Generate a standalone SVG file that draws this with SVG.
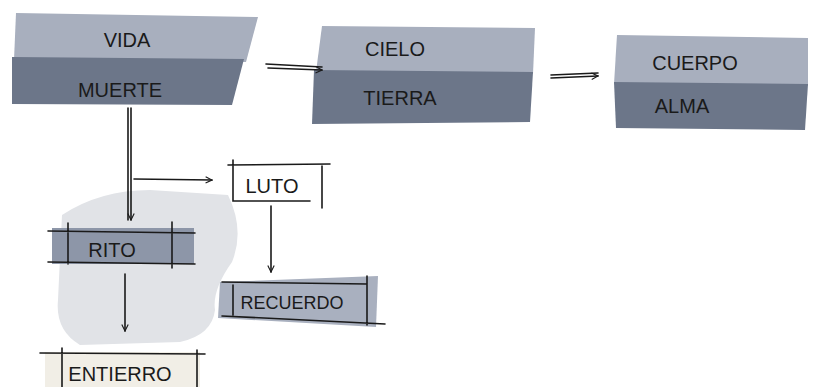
<svg xmlns="http://www.w3.org/2000/svg" width="813" height="387" viewBox="0 0 813 387">
<defs>
<style>
.lt{fill:#a8afbe}
.dk{fill:#6c7689}
.t{font-family:"Liberation Sans",Arial,sans-serif;font-size:20px;fill:#1a1a1a;text-anchor:middle}
.ln{stroke:#1a1a1a;stroke-width:1.6;fill:none;stroke-linecap:round}
.wash{fill:#e1e3e7}
</style>
<marker id="ah" viewBox="0 0 10 10" refX="9" refY="5" markerWidth="8" markerHeight="8" orient="auto-start-reverse" markerUnits="userSpaceOnUse">
<path d="M1,1 L9,5 L1,9" fill="none" stroke="#1a1a1a" stroke-width="1.4"/>
</marker>
</defs>
<rect width="813" height="387" fill="#ffffff"/>
<path class="wash" d="M62,215 Q100,190 150,190 L228,195 Q245,230 232,262 Q212,290 215,310 Q212,335 180,342 L80,345 Q55,330 58,300 Z"/>
<g id="vida-muerte">
<path class="lt" d="M16,13 L258,17 L246,62 L14,60 Z"/>
<path class="dk" d="M12,57 L244,59 L232,105 L12,104 Z"/>
<text class="t" x="127" y="47">VIDA</text>
<text class="t" x="120" y="97">MUERTE</text>
</g>
<g id="cielo-tierra">
<path class="lt" d="M322,26 L535,28 L533,74 L316,72 Z"/>
<path class="dk" d="M314,70 L533,72 L530,122 L312,124 Z"/>
<text class="t" x="395" y="56">CIELO</text>
<text class="t" x="400" y="105">TIERRA</text>
</g>
<g id="cuerpo-alma">
<path class="lt" d="M617,35 L808,38 L808,86 L614,84 Z"/>
<path class="dk" d="M614,82 L808,84 L805,130 L616,128 Z"/>
<text class="t" x="695" y="70">CUERPO</text>
<text class="t" x="682" y="113">ALMA</text>
</g>
<g id="luto">
<path class="ln" d="M228,165 L330,164 M233,160 L233,201 L310,201 M322,166 L322,208"/>
<text class="t" x="272" y="193">LUTO</text>
</g>
<g id="rito">
<rect x="52" y="228" width="142" height="36" fill="#8d96a8"/>
<path class="ln" d="M48,231 L195,233 M48,262 L195,264 M68,223 L68,264 M172,222 L172,268"/>
<text class="t" x="112" y="257">RITO</text>
</g>
<g id="recuerdo">
<path d="M220,282 L378,276 L376,327 L218,318 Z" fill="#a9b0bf"/>
<path class="ln" d="M222,282 L367,284 M222,316 L385,324 M233,285 L233,315 M367,276 L367,325"/>
<text class="t" x="292" y="309" style="font-size:18px">RECUERDO</text>
</g>
<g id="entierro">
<rect x="45" y="352" width="155" height="35" fill="#f1eee6"/>
<path class="ln" d="M40,353 L205,354 M62,348 L62,387 M197,350 L197,387"/>
<text class="t" x="120" y="381">ENTIERRO</text>
</g>
<g id="connectors">
<path class="ln" d="M266,64 L322,67 M268,68 L322,70" marker-end="url(#ah)"/>
<path class="ln" d="M551,75 L598,73 M551,78 L598,76" marker-end="url(#ah)"/>
<path class="ln" d="M128,108 L128,220 M131,108 L131,220" marker-end="url(#ah)"/>
<path class="ln" d="M134,179 L212,180" marker-end="url(#ah)"/>
<path class="ln" d="M271,206 L271,272" marker-end="url(#ah)"/>
<path class="ln" d="M125,274 L125,331" marker-end="url(#ah)"/>
</g>
</svg>
